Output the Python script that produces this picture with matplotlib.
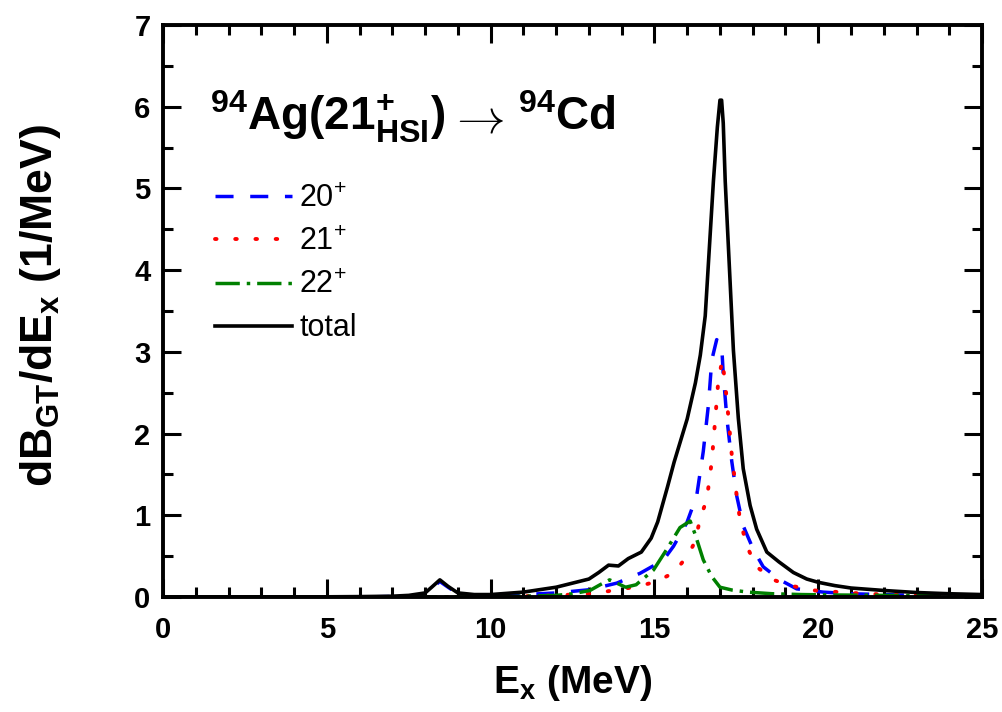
import matplotlib
matplotlib.use("Agg")
import matplotlib.pyplot as plt
from matplotlib.ticker import MultipleLocator

plt.rcParams["font.family"] = ["Liberation Sans", "DejaVu Sans"]
plt.rcParams["mathtext.fontset"] = "custom"
plt.rcParams["mathtext.rm"] = "Liberation Sans"
plt.rcParams["mathtext.bf"] = "Liberation Sans:bold"
plt.rcParams["mathtext.it"] = "Liberation Sans:italic"

# total strength
x_total = [0, 2, 4, 6, 7, 7.5, 8.0, 8.2, 8.45, 8.7, 9.0, 9.5, 10, 11, 12, 12.5, 13.0,
           13.3, 13.6, 13.9, 14.2, 14.6, 14.9, 15.1, 15.4, 15.6, 16.0, 16.25, 16.4,
           16.55, 16.8, 16.92, 17.0, 17.05, 17.1, 17.16, 17.31, 17.41, 17.56, 17.71,
           17.92, 18.12, 18.43, 18.8, 19.24, 19.65, 20.0, 20.5, 21, 22, 23, 24, 25]
y_total = [0.0, 0.0, 0.0, 0.005, 0.01, 0.02, 0.05, 0.12, 0.21, 0.13, 0.05, 0.03, 0.03,
           0.06, 0.12, 0.17, 0.22, 0.3, 0.39, 0.38, 0.47, 0.55, 0.72, 0.92, 1.35, 1.65,
           2.18, 2.62, 2.96, 3.44, 5.09, 5.75, 6.08, 6.08, 5.8, 5.09, 3.85, 3.02, 2.19,
           1.57, 1.12, 0.83, 0.55, 0.43, 0.3, 0.22, 0.18, 0.14, 0.11, 0.08, 0.055, 0.04, 0.03]

# 20+ final states
x_20 = [0, 6, 7.5, 8.0, 8.2, 8.45, 8.7, 9.0, 9.5, 10, 11, 12, 13.03, 13.85, 14.56, 15.27,
        15.58, 15.99, 16.29, 16.49, 16.65, 16.75, 16.9, 17.05, 17.1, 17.21, 17.36, 17.51,
        17.71, 18.02, 18.32, 18.83, 19.34, 20.15, 21, 22, 23, 25]
y_20 = [0.0, 0.0, 0.01, 0.04, 0.11, 0.19, 0.12, 0.04, 0.01, 0.01, 0.03, 0.05, 0.09, 0.17,
        0.29, 0.45, 0.62, 0.91, 1.24, 1.78, 2.36, 2.9, 3.15, 3.09, 2.73, 2.19, 1.66, 1.24,
        0.87, 0.58, 0.37, 0.21, 0.1, 0.06, 0.04, 0.03, 0.02, 0.01]

# 21+ final states
x_21 = [0, 10, 11, 12, 13.0, 13.4, 13.9, 14.5, 15.07, 15.6, 16.04, 16.24, 16.39, 16.6,
        16.75, 16.85, 16.95, 17.07, 17.16, 17.26, 17.36, 17.51, 17.61, 17.82, 18.12,
        18.63, 19.14, 19.9, 21, 22, 23, 25]
y_21 = [0.0, 0.0, 0.01, 0.02, 0.04, 0.06, 0.09, 0.13, 0.19, 0.3, 0.52, 0.68, 0.95, 1.2,
        1.66, 2.15, 2.65, 2.9, 2.61, 2.19, 1.74, 1.24, 0.95, 0.62, 0.37, 0.21, 0.14, 0.08,
        0.05, 0.03, 0.02, 0.01]

# 22+ final states
x_22 = [0, 10, 11, 12, 12.5, 13.03, 13.34, 13.63, 14.12, 14.44, 14.97, 15.37, 15.78,
        16.09, 16.24, 16.49, 16.75, 17.0, 17.37, 17.85, 18.6, 19.5, 20.5, 22, 25]
y_22 = [0.0, 0.0, 0.01, 0.02, 0.04, 0.08, 0.15, 0.21, 0.12, 0.15, 0.33, 0.58, 0.85, 0.93,
        0.77, 0.455, 0.25, 0.12, 0.085, 0.06, 0.04, 0.03, 0.025, 0.02, 0.01]

fig = plt.figure(figsize=(10.02, 7.12), dpi=100)
ax = fig.add_axes([0.1627, 0.1615, 0.8174, 0.8034])

ax.plot(x_20, y_20, color="#0000ff", lw=2.5, dashes=(5.2, 4.8), label="20$^{+}$")
ax.plot(x_21, y_21, color="#ff0000", lw=2.8, dashes=(0.4, 4.8),
        dash_capstyle="round", label="21$^{+}$")
ax.plot(x_22, y_22, color="#008000", lw=2.5, dashes=(7.0, 2.0, 1.0, 2.0), label="22$^{+}$")
ax.plot(x_total, y_total, color="black", lw=2.6, label="total")

ax.set_xlim(0, 25)
ax.set_ylim(0, 7)
ax.xaxis.set_major_locator(MultipleLocator(5))
ax.xaxis.set_minor_locator(MultipleLocator(1))
ax.yaxis.set_major_locator(MultipleLocator(1))
ax.yaxis.set_minor_locator(MultipleLocator(0.5))
ax.tick_params(which="both", direction="in", top=True, right=True, width=2.2)
ax.tick_params(which="major", length=13, labelsize=21)
ax.tick_params(axis="x", which="major", pad=14)
ax.tick_params(axis="y", which="major", pad=9)
ax.tick_params(which="minor", length=7)
for lab in ax.get_xticklabels() + ax.get_yticklabels():
    lab.set_fontweight("bold")
for sp in ax.spines.values():
    sp.set_linewidth(2.8)

ax.set_xlabel(r"$\mathbf{E_{x}}$ (MeV)", fontsize=28, fontweight="bold")
ax.set_ylabel(r"$\mathbf{dB_{GT}/dE_{x}}$ (1/MeV)", fontsize=32, fontweight="bold")
ax.xaxis.set_label_coords(0.5, -0.115)
ax.yaxis.set_label_coords(-0.122, 0.51)

# reaction label: parent, arrow, daughter
ax.text(0.057, 0.816, r"$\mathbf{^{94}Ag(21^{+}_{HSI})}$",
        transform=ax.transAxes, fontsize=33, va="baseline", ha="left")
ax.text(0.348, 0.834, r"$\rightarrow$", transform=ax.transAxes, fontsize=35,
        math_fontfamily="cm", va="center", ha="left")
ax.text(0.4335, 0.816, r"$\mathbf{^{94}Cd}$",
        transform=ax.transAxes, fontsize=33, va="baseline", ha="left")

leg = ax.legend(loc="upper left", bbox_to_anchor=(0.064, 0.722), frameon=False, fontsize=22,
                handlelength=2.5, handletextpad=0.25, labelspacing=0.43, borderpad=0,
                borderaxespad=0)

fig.savefig("out.png", dpi=100)
